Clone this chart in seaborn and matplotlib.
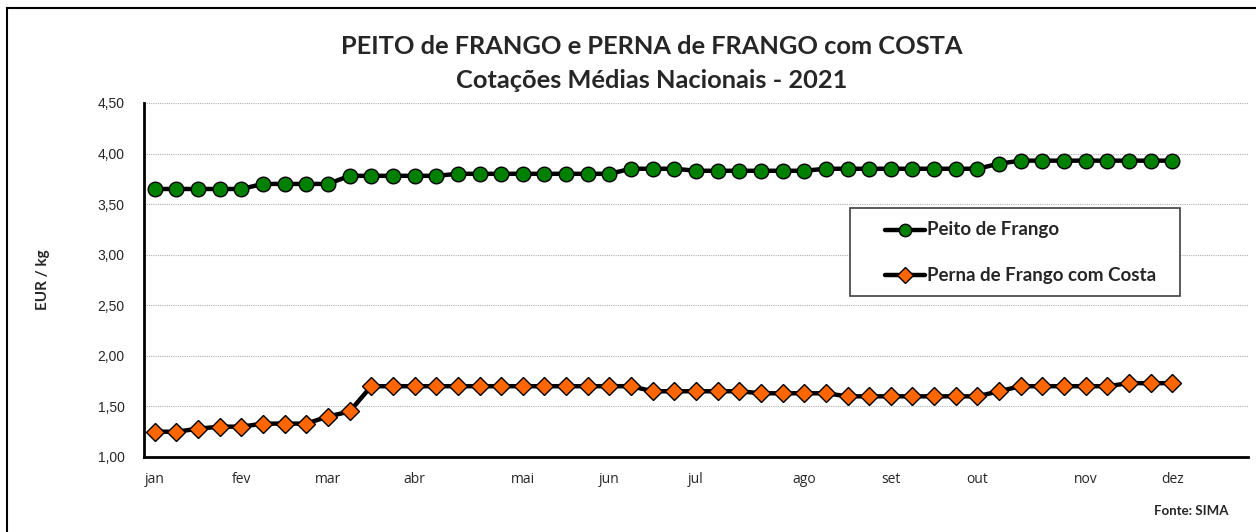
import matplotlib
matplotlib.use("Agg")
import matplotlib.pyplot as plt
import seaborn as sns
import pandas as pd
from matplotlib.patches import Rectangle
from matplotlib.lines import Line2D
from matplotlib.ticker import FixedLocator, FuncFormatter

# ---- data (weekly national average quotations, 2021) ----
weeks = list(range(1, 49))
peito = [3.65, 3.65, 3.65, 3.65, 3.65, 3.70, 3.70, 3.70, 3.70, 3.78,
         3.78, 3.78, 3.78, 3.78, 3.80, 3.80, 3.80, 3.80, 3.80, 3.80,
         3.80, 3.80, 3.85, 3.85, 3.85, 3.83, 3.83, 3.83, 3.83, 3.83,
         3.83, 3.85, 3.85, 3.85, 3.85, 3.85, 3.85, 3.85, 3.85, 3.90,
         3.93, 3.93, 3.93, 3.93, 3.93, 3.93, 3.93, 3.93]
perna = [1.25, 1.25, 1.28, 1.30, 1.30, 1.33, 1.33, 1.33, 1.40, 1.45,
         1.70, 1.70, 1.70, 1.70, 1.70, 1.70, 1.70, 1.70, 1.70, 1.70,
         1.70, 1.70, 1.70, 1.65, 1.65, 1.65, 1.65, 1.65, 1.63, 1.63,
         1.63, 1.63, 1.60, 1.60, 1.60, 1.60, 1.60, 1.60, 1.60, 1.65,
         1.70, 1.70, 1.70, 1.70, 1.70, 1.73, 1.73, 1.73]
month_labels = ["jan", "fev", "mar", "abr", "mai", "jun",
                "jul", "ago", "set", "out", "nov", "dez"]
month_weeks = [1, 5, 9, 13, 18, 22, 26, 31, 35, 39, 44, 48]
n_slots = 51
series_names = ["Peito de Frango", "Perna de Frango com Costa"]

df = pd.DataFrame({
    "semana": weeks * 2,
    "valor": peito + perna,
    "serie": [series_names[0]] * len(weeks) + [series_names[1]] * len(weeks),
})

sns.set_theme(style="white")
plt.rcParams["font.family"] = ["Lato", "DejaVu Sans"]

W, H = 1256, 532
fig = plt.figure(figsize=(W / 100, H / 100), dpi=100)
ax = fig.add_axes([144 / W, 75 / H, 1104 / W, 354 / H])

colors = {series_names[0]: "#008000", series_names[1]: "#FF6600"}
markers = {series_names[0]: "o", series_names[1]: "D"}
sizes = {series_names[0]: 10.5, series_names[1]: 9.5}
for name in series_names:
    sub = df[df["serie"] == name]
    sns.lineplot(data=sub, x="semana", y="valor", ax=ax, color="black",
                 linewidth=3.2, marker=markers[name], markersize=sizes[name],
                 markerfacecolor=colors[name], markeredgecolor="black",
                 markeredgewidth=1.0, zorder=3, legend=False)

ax.set_xlim(0.5, n_slots + 0.5)
ax.set_ylim(1.0, 4.5)
ax.set_yticks([1.0, 1.5, 2.0, 2.5, 3.0, 3.5, 4.0, 4.5])
ax.yaxis.set_major_formatter(FuncFormatter(lambda v, p: f"{v:.2f}".replace(".", ",")))
ax.grid(axis="y", color="#b0b0b0", linestyle=(0, (1, 1)), linewidth=0.8)
ax.grid(axis="x", visible=False)

ax.xaxis.set_major_locator(FixedLocator([i + 0.5 for i in range(0, n_slots + 1)]))
ax.xaxis.set_major_formatter(FuncFormatter(lambda v, p: ""))
ax.xaxis.set_minor_locator(FixedLocator(month_weeks))
ax.set_xticklabels(month_labels, minor=True)
ax.tick_params(axis="x", which="major", direction="in", length=4, width=1.2, color="black")
ax.tick_params(axis="x", which="minor", length=0, pad=11, labelsize=10)
ax.tick_params(axis="y", direction="in", length=4, width=1.2, color="black",
               labelsize=10, pad=14)
for lbl in ax.get_yticklabels():
    lbl.set_fontfamily("Liberation Sans")
for lbl in ax.get_xticklabels(minor=True):
    lbl.set_fontfamily(["Open Sans", "DejaVu Sans"])

for side in ["top", "right"]:
    ax.spines[side].set_visible(False)
ax.spines["left"].set_color("black")
ax.spines["left"].set_linewidth(2)
ax.spines["bottom"].set_color("black")
ax.spines["bottom"].set_linewidth(2)

ax.set_xlabel("")
ax.set_ylabel("EUR / kg", fontsize=11, fontweight="bold", labelpad=34)

fig.text(652 / W, 1 - 46 / H, "PEITO de FRANGO e PERNA de FRANGO com COSTA",
         ha="center", va="center", fontsize=18.3, fontweight="bold")
fig.text(652 / W, 1 - 80 / H, "Cotações Médias Nacionais - 2021",
         ha="center", va="center", fontsize=18.3, fontweight="bold")
fig.text(1228 / W, 1 - 511 / H, "Fonte: SIMA", ha="right", va="center",
         fontsize=9.5, fontweight="bold")

# legend box (drawn in figure pixel fractions)
lx0, lx1, ly0, ly1 = 850, 1180, 208, 296
fig.patches.append(Rectangle((lx0 / W, 1 - ly1 / H), (lx1 - lx0) / W, (ly1 - ly0) / H,
                             transform=fig.transFigure, facecolor="white",
                             edgecolor="#404040", linewidth=1.2, zorder=5))
for i, name in enumerate(series_names):
    yy = 1 - (230 + 45 * i) / H
    fig.add_artist(Line2D([885 / W, 925 / W], [yy, yy], transform=fig.transFigure,
                          color="black", linewidth=3.2, zorder=6))
    fig.add_artist(Line2D([905 / W], [yy], transform=fig.transFigure,
                          marker=markers[name], markersize=sizes[name] * 0.85,
                          markerfacecolor=colors[name], markeredgecolor="black",
                          linestyle="none", zorder=7))
    fig.text(927 / W, yy, name, ha="left", va="center", fontsize=13.5,
             fontweight="bold", zorder=8)

fig.patches.append(Rectangle((7 / W, -20 / H), 1.2, 1 + 12 / H,
                             transform=fig.transFigure, fill=False,
                             edgecolor="black", linewidth=1.5))

fig.savefig("out.png", dpi=100)
